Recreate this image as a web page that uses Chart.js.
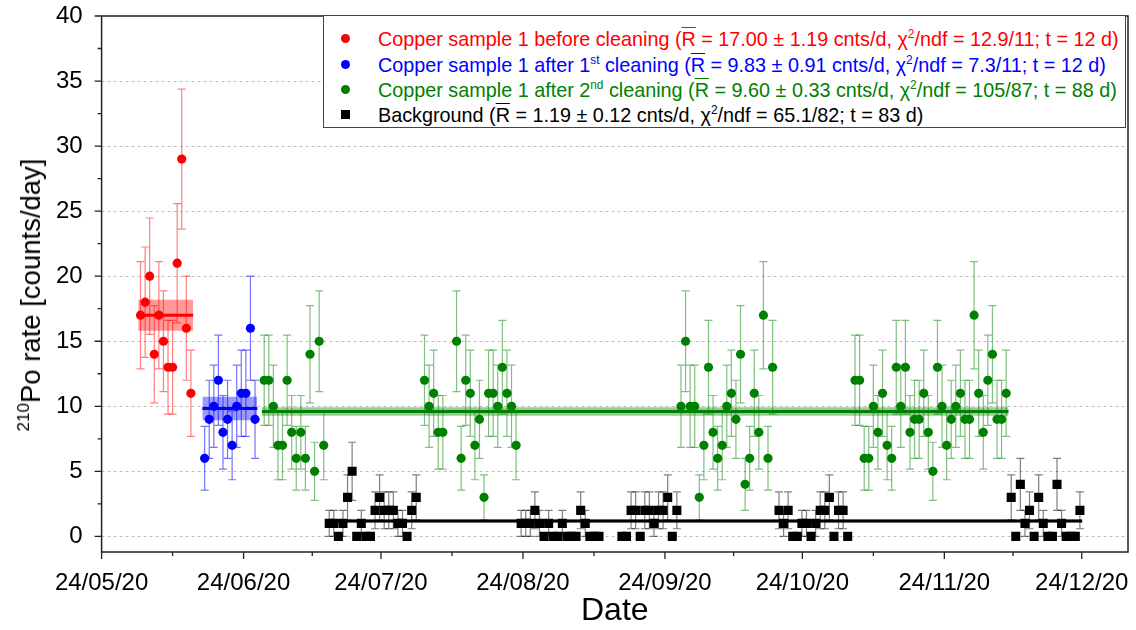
<!DOCTYPE html>
<html>
<head>
<meta charset="utf-8">
<title>210Po rate</title>
<script src="https://cdn.jsdelivr.net/npm/chart.js@4.4.1/dist/chart.umd.min.js"></script>
<style>
  body { margin: 0; background: #fff; }
  #wrap { position: relative; width: 1136px; height: 630px; overflow: hidden; }
  #myChart { position: absolute; left: 0; top: 0; }
  #ytitle {
    position: absolute; left: 31px; top: 295px; white-space: nowrap;
    transform: translate(-50%, -50%) rotate(-90deg);
    font-family: 'Liberation Sans', Arial, sans-serif; font-size: 27.5px; color: #000;
  }
  #ytitle sup { font-size: 0.62em; vertical-align: 0.62em; line-height: 0; }
  #legend {
    position: absolute; left: 323px; top: 15px; width: 803px; height: 113px;
    border: 1px solid #444; background: #fff; box-sizing: border-box;
    font-family: 'Liberation Sans', Arial, sans-serif; font-size: 19.8px;
  }
  .row { position: absolute; left: 54px; height: 24px; line-height: 24px; white-space: nowrap; }
  .row sup { font-size: 0.6em; vertical-align: 0.65em; line-height: 0; }
  .ov { text-decoration: overline; }
  .mk { position: absolute; left: 17px; width: 9px; height: 9px; }
  .dot { border-radius: 50%; }
</style>
</head>
<body>
<div id="wrap">
  <canvas id="myChart" width="1136" height="630"></canvas>
  <div id="ytitle"><sup>210</sup>Po rate [counts/day]</div>
  <div id="legend">
    <div class="mk dot" style="top:18px;background:#ff0000"></div>
    <div class="row" style="top:11px;color:#ff0000">Copper sample 1 before cleaning (<span class="ov">R</span> = 17.00 ± 1.19 cnts/d, χ<sup>2</sup>/ndf = 12.9/11; t = 12 d)</div>
    <div class="mk dot" style="top:44px;background:#0000ff"></div>
    <div class="row" style="top:37px;color:#0000ff">Copper sample 1 after 1<sup>st</sup> cleaning (<span class="ov">R</span> = 9.83 ± 0.91 cnts/d, χ<sup>2</sup>/ndf = 7.3/11; t = 12 d)</div>
    <div class="mk dot" style="top:69px;background:#008000"></div>
    <div class="row" style="top:62px;color:#008000">Copper sample 1 after 2<sup>nd</sup> cleaning (<span class="ov">R</span> = 9.60 ± 0.33 cnts/d, χ<sup>2</sup>/ndf = 105/87; t = 88 d)</div>
    <div class="mk" style="top:94px;background:#000"></div>
    <div class="row" style="top:87px;color:#000">Background (<span class="ov">R</span> = 1.19 ± 0.12 cnts/d, χ<sup>2</sup>/ndf = 65.1/82; t = 83 d)</div>
  </div>
</div>
<script>
// x is days since 24/05/20
const tickDays = [0, 31, 61, 92, 123, 153, 184, 214];
const tickLabels = ["24/05/20", "24/06/20", "24/07/20", "24/08/20", "24/09/20", "24/10/20", "24/11/20", "24/12/20"];

// before cleaning
const redDays = [8.5, 9.5, 10.5, 11.5, 12.5, 13.5, 14.5, 15.5, 16.5, 17.5, 18.5, 19.5];
const redCounts = [17, 18, 20, 14, 17, 15, 13, 13, 21, 29, 16, 11];

// after 1st cleaning
const blueDays = [22.5, 23.5, 24.5, 25.5, 26.5, 27.5, 28.5, 29.5, 30.5, 31.5, 32.5, 33.5];
const blueCounts = [6, 9, 10, 12, 8, 9, 7, 10, 11, 11, 16, 9];

// after 2nd cleaning
const greenDays = [
  35.5, 36.5, 37.5, 38.5, 39.5, 40.5, 41.5, 42.5, 43.5, 44.5, 45.5, 46.5, 47.5, 48.5,
  70.5, 71.5, 72.5, 73.5, 74.5,
  77.5, 78.5, 79.5, 80.5, 81.5, 82.5, 83.5, 84.5, 85.5, 86.5, 87.5, 88.5, 89.5, 90.5,
  126.5, 127.5, 128.5, 129.5, 130.5, 131.5, 132.5, 133.5, 134.5, 135.5, 136.5, 137.5, 138.5,
  139.5, 140.5, 141.5, 142.5, 143.5, 144.5, 145.5, 146.5,
  164.5, 165.5, 166.5, 167.5, 168.5, 169.5, 170.5, 171.5, 172.5, 173.5, 174.5, 175.5,
  176.5, 177.5, 178.5, 179.5, 180.5, 181.5, 182.5, 183.5, 184.5, 185.5, 186.5, 187.5,
  188.5, 189.5, 190.5, 191.5, 192.5, 193.5, 194.5, 195.5, 196.5, 197.5
];
const greenCounts = [
  12, 12, 10, 7, 7, 12, 8, 6, 8, 6, 14, 5, 15, 7,
  12, 10, 11, 8, 8,
  15, 6, 12, 11, 7, 9, 3, 11, 11, 10, 13, 11, 10, 7,
  10, 15, 10, 10, 3, 7, 13, 8, 6, 7, 10, 11, 9,
  14, 4, 6, 11, 8, 17, 6, 13,
  12, 12, 6, 6, 10, 8, 11, 7, 6, 13, 10, 13,
  8, 9, 9, 11, 8, 5, 13, 10, 7, 9, 10, 11,
  9, 9, 17, 11, 8, 12, 14, 9, 9, 11
];

// background
const bgDays = [
  49.7, 50.7, 51.7, 52.7, 53.7, 54.7, 55.7, 56.7, 57.7, 58.7, 59.7, 60.7, 61.7, 62.7, 63.7,
  64.7, 65.7, 66.7, 67.7, 68.7,
  91.6, 92.6, 93.6, 94.6, 95.6, 96.6, 97.6, 98.6, 99.6, 100.6, 101.6, 102.6, 103.6, 104.6,
  105.6, 106.6, 107.6, 108.6,
  113.6, 114.6, 115.6, 116.6, 117.6, 118.6, 119.6, 120.6, 121.6, 122.6, 123.6, 124.6, 125.6,
  147.9, 148.9, 149.9, 150.9, 151.9, 152.9, 153.9, 154.9, 155.9, 156.9, 157.9, 158.9,
  159.9, 160.9, 161.9, 162.9,
  198.6, 199.6, 200.6, 201.6, 202.6, 203.6, 204.6, 205.6, 206.6, 207.6, 208.6, 209.6,
  210.6, 211.6, 212.6, 213.6
];
const bgCounts = [
  1, 1, 0, 1, 3, 5, 0, 1, 0, 0, 2, 3, 2, 2, 2,
  1, 1, 0, 2, 3,
  1, 1, 1, 2, 1, 0, 1, 0, 0, 1, 0, 0, 0, 2,
  1, 0, 0, 0,
  0, 0, 2, 2, 0, 2, 2, 1, 2, 2, 3, 0, 2,
  2, 1, 2, 0, 0, 1, 1, 0, 1, 2, 2, 3,
  0, 2, 2, 0,
  3, 0, 4, 1, 2, 0, 3, 1, 0, 0, 4, 1,
  0, 0, 0, 2
];

// constant fits: red, blue, green, background
const fitMean = [17.00, 9.83, 9.60, 1.19];
const fitErr = [1.19, 0.91, 0.33, 0.12];
const fitFrom = [8.0, 22.0, 35.0, 49.2];
const fitTo = [20.0, 34.0, 198.0, 214.1];

const colors = ["#ff0000", "#0000ff", "#008000", "#000000"];
const barColors = ["rgba(255,0,0,0.5)", "rgba(0,0,255,0.55)", "rgba(0,128,0,0.5)", "rgba(0,0,0,0.5)"];
const bandColors = ["rgba(255,0,0,0.4)", "rgba(0,0,255,0.4)", "rgba(0,128,0,0.4)", "rgba(0,0,0,0.3)"];

function pts(days, counts) {
  return days.map((d, i) => ({ x: d, y: counts[i] }));
}

const FONT = "'Liberation Sans', Arial, sans-serif";

let datasets = [];
const series = [[redDays, redCounts], [blueDays, blueCounts], [greenDays, greenCounts], [bgDays, bgCounts]];
series.forEach((s, k) => {
  datasets.push({
    type: "scatter",
    data: pts(s[0], s[1]),
    backgroundColor: colors[k],
    borderWidth: 0,
    pointStyle: k == 3 ? "rect" : "circle",
    pointRadius: k == 3 ? 6.4 : 4.6,
    errColor: barColors[k],
    order: 0
  });
});
fitMean.forEach((m, k) => {
  datasets.push({
    type: "line",
    data: [{ x: fitFrom[k], y: m + fitErr[k] }, { x: fitTo[k], y: m + fitErr[k] }],
    borderWidth: 0, pointRadius: 0, fill: false, order: 2
  });
  datasets.push({
    type: "line",
    data: [{ x: fitFrom[k], y: m - fitErr[k] }, { x: fitTo[k], y: m - fitErr[k] }],
    borderWidth: 0, pointRadius: 0, fill: "-1", backgroundColor: bandColors[k], order: 2
  });
  datasets.push({
    type: "line",
    data: [{ x: fitFrom[k], y: m }, { x: fitTo[k], y: m }],
    borderColor: colors[k], borderWidth: 3, pointRadius: 0, fill: false, order: 1
  });
});

// dashed grid, under everything
const gridLines = {
  id: "gridLines",
  beforeDatasetsDraw(chart) {
    const { ctx, chartArea: a, scales: { y } } = chart;
    ctx.save();
    ctx.strokeStyle = "#bdbdbd";
    ctx.lineWidth = 1;
    ctx.setLineDash([3, 3]);
    for (let v = 0; v <= 35; v += 5) {
      const py = Math.round(y.getPixelForValue(v)) + 0.5;
      ctx.beginPath(); ctx.moveTo(a.left, py); ctx.lineTo(a.right, py); ctx.stroke();
    }
    ctx.restore();
  }
};

// sqrt(N) error bars
const errorBars = {
  id: "errorBars",
  beforeDatasetsDraw(chart) {
    const { ctx, scales: { x, y } } = chart;
    ctx.save();
    ctx.lineWidth = 1.2;
    chart.data.datasets.forEach(ds => {
      if (!ds.errColor) return;
      ctx.strokeStyle = ds.errColor;
      ds.data.forEach(p => {
        const e = Math.sqrt(p.y);
        if (!e) return;
        const px = x.getPixelForValue(p.x);
        const t = y.getPixelForValue(p.y + e), b = y.getPixelForValue(p.y - e);
        ctx.beginPath();
        ctx.moveTo(px, t); ctx.lineTo(px, b);
        ctx.moveTo(px - 4, t); ctx.lineTo(px + 4, t);
        ctx.moveTo(px - 4, b); ctx.lineTo(px + 4, b);
        ctx.stroke();
      });
    });
    ctx.restore();
  }
};

// frame and ticks
const frame = {
  id: "frame",
  afterDatasetsDraw(chart) {
    const { ctx, chartArea: a, scales: { x, y } } = chart;
    ctx.save();
    ctx.strokeStyle = "#222";
    ctx.lineWidth = 1.5;
    ctx.strokeRect(a.left, a.top, a.right - a.left, a.bottom - a.top);
    ctx.lineWidth = 1.3;
    ctx.beginPath();
    for (let v = 0; v <= 40; v += 2.5) {
      const py = y.getPixelForValue(v);
      const len = v % 5 == 0 ? 7 : 4;
      ctx.moveTo(a.left - len, py); ctx.lineTo(a.left, py);
    }
    tickDays.forEach((d, i) => {
      const px = x.getPixelForValue(d);
      ctx.moveTo(px, a.bottom); ctx.lineTo(px, a.bottom + 7);
      if (i < tickDays.length - 1) {
        const mx = x.getPixelForValue((d + tickDays[i + 1]) / 2);
        ctx.moveTo(mx, a.bottom); ctx.lineTo(mx, a.bottom + 4);
      }
    });
    ctx.stroke();
    ctx.restore();
  }
};

const ctx = document.getElementById("myChart").getContext("2d");
const myChart = new Chart(ctx, {
  type: "scatter",
  data: { datasets: datasets },
  plugins: [gridLines, errorBars, frame],
  options: {
    responsive: false,
    animation: false,
    events: [],
    layout: { padding: { top: 16, right: 8, left: 0, bottom: 0 } },
    plugins: { legend: { display: false }, tooltip: { enabled: false } },
    scales: {
      x: {
        type: "linear", min: 0, max: 224.1,
        grid: { display: false }, border: { display: false },
        afterBuildTicks: s => { s.ticks = tickDays.map(v => ({ value: v })); },
        afterFit: s => { s.height = 78; s.paddingLeft = 0; s.paddingRight = 0; },
        ticks: {
          autoSkip: false, maxRotation: 0, padding: 9, color: "#000",
          font: { family: FONT, size: 24 },
          callback: (v, i) => tickLabels[i]
        },
        title: { display: true, text: "Date", color: "#000", font: { family: FONT, size: 32 }, padding: { top: 0, bottom: 0 } }
      },
      y: {
        type: "linear", min: -1.2, max: 40,
        grid: { display: false }, border: { display: false },
        afterBuildTicks: s => { s.ticks = [0, 5, 10, 15, 20, 25, 30, 35, 40].map(v => ({ value: v })); },
        afterFit: s => { s.width = 101.6; s.paddingTop = 0; s.paddingBottom = 0; },
        ticks: { padding: 11, color: "#000", font: { family: FONT, size: 24 } }
      }
    }
  }
});
</script>
</body>
</html>
